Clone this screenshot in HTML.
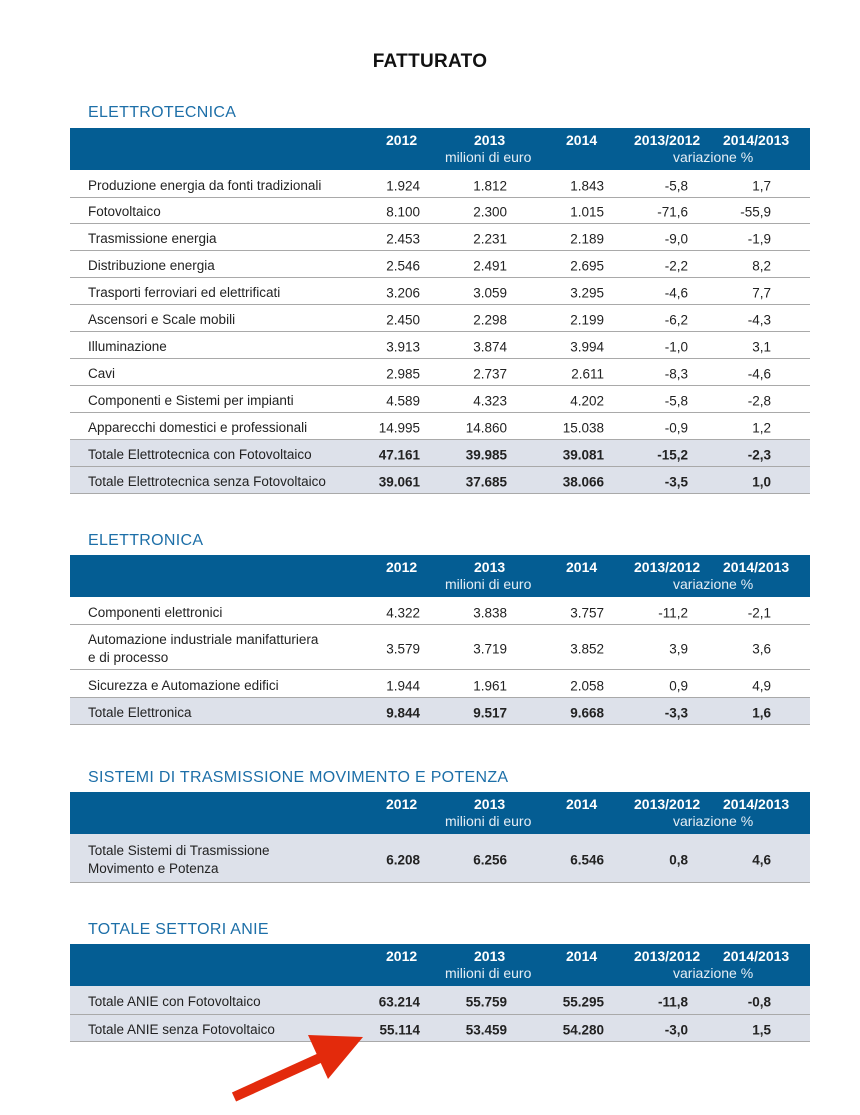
<!DOCTYPE html>
<html><head><meta charset="utf-8"><style>
body{margin:0;width:860px;height:1115px;background:#fff;position:relative;font-family:"Liberation Sans","DejaVu Sans",sans-serif;color:#222;overflow:hidden}
.t{position:absolute;left:0;width:860px;text-align:center;top:51px;font-size:19px;font-weight:bold;color:#111;letter-spacing:0.3px}
.s{position:absolute;left:88px;font-size:16px;color:#1d6fa8;letter-spacing:0.3px}
.h{position:absolute;left:70px;width:740px;height:42px;background:#045d93;color:#fff;font-size:14px}
.h span{position:absolute;top:4px;font-weight:bold}
.h .m{top:21px;color:#e6eef5;font-weight:normal}
.r{position:absolute;left:70px;width:740px;border-bottom:1.5px solid #a9a9a9;font-size:13.5px}
.r.g{background:#dde1ea}
.r.b span{font-weight:bold}
.r span{position:absolute;top:calc(50% + 2px);transform:translateY(-50%)}
.r .l{left:18px;line-height:18px}
.c1,.c2,.c3,.c4,.c5{text-align:right;width:100px}
.c1{left:250px}.c2{left:337px}.c3{left:434px}.c4{left:518px}.c5{left:601px}
.h .x1{left:316px}.h .x2{left:404px}.h .x3{left:496px}.h .x4{left:564px}.h .x5{left:653px}
.h .mm{left:375px}.h .mv{left:603px}
</style></head><body>
<div class="t">FATTURATO</div>

<div class="s" style="top:104px">ELETTROTECNICA</div>
<div class="h" style="top:128px"><span class="x1">2012</span><span class="x2">2013</span><span class="x3">2014</span><span class="x4">2013/2012</span><span class="x5">2014/2013</span><span class="m mm">milioni di euro</span><span class="m mv">variazione %</span></div>
<div class="r" style="top:170px;height:27px"><span class="l">Produzione energia da fonti tradizionali</span><span class="c1">1.924</span><span class="c2">1.812</span><span class="c3">1.843</span><span class="c4">-5,8</span><span class="c5">1,7</span></div>
<div class="r" style="top:197px;height:26px"><span class="l">Fotovoltaico</span><span class="c1">8.100</span><span class="c2">2.300</span><span class="c3">1.015</span><span class="c4">-71,6</span><span class="c5">-55,9</span></div>
<div class="r" style="top:224px;height:26px"><span class="l">Trasmissione energia</span><span class="c1">2.453</span><span class="c2">2.231</span><span class="c3">2.189</span><span class="c4">-9,0</span><span class="c5">-1,9</span></div>
<div class="r" style="top:251px;height:26px"><span class="l">Distribuzione energia</span><span class="c1">2.546</span><span class="c2">2.491</span><span class="c3">2.695</span><span class="c4">-2,2</span><span class="c5">8,2</span></div>
<div class="r" style="top:278px;height:26px"><span class="l">Trasporti ferroviari ed elettrificati</span><span class="c1">3.206</span><span class="c2">3.059</span><span class="c3">3.295</span><span class="c4">-4,6</span><span class="c5">7,7</span></div>
<div class="r" style="top:305px;height:26px"><span class="l">Ascensori e Scale mobili</span><span class="c1">2.450</span><span class="c2">2.298</span><span class="c3">2.199</span><span class="c4">-6,2</span><span class="c5">-4,3</span></div>
<div class="r" style="top:332px;height:26px"><span class="l">Illuminazione</span><span class="c1">3.913</span><span class="c2">3.874</span><span class="c3">3.994</span><span class="c4">-1,0</span><span class="c5">3,1</span></div>
<div class="r" style="top:359px;height:26px"><span class="l">Cavi</span><span class="c1">2.985</span><span class="c2">2.737</span><span class="c3">2.611</span><span class="c4">-8,3</span><span class="c5">-4,6</span></div>
<div class="r" style="top:386px;height:26px"><span class="l">Componenti e Sistemi per impianti</span><span class="c1">4.589</span><span class="c2">4.323</span><span class="c3">4.202</span><span class="c4">-5,8</span><span class="c5">-2,8</span></div>
<div class="r" style="top:413px;height:26px"><span class="l">Apparecchi domestici e professionali</span><span class="c1">14.995</span><span class="c2">14.860</span><span class="c3">15.038</span><span class="c4">-0,9</span><span class="c5">1,2</span></div>
<div class="r g b" style="top:440px;height:26px"><span class="l" style="font-weight:normal">Totale Elettrotecnica con Fotovoltaico</span><span class="c1">47.161</span><span class="c2">39.985</span><span class="c3">39.081</span><span class="c4">-15,2</span><span class="c5">-2,3</span></div>
<div class="r g b" style="top:467px;height:26px"><span class="l" style="font-weight:normal">Totale Elettrotecnica senza Fotovoltaico</span><span class="c1">39.061</span><span class="c2">37.685</span><span class="c3">38.066</span><span class="c4">-3,5</span><span class="c5">1,0</span></div>

<div class="s" style="top:532px">ELETTRONICA</div>
<div class="h" style="top:555px"><span class="x1">2012</span><span class="x2">2013</span><span class="x3">2014</span><span class="x4">2013/2012</span><span class="x5">2014/2013</span><span class="m mm">milioni di euro</span><span class="m mv">variazione %</span></div>
<div class="r" style="top:597px;height:27px"><span class="l">Componenti elettronici</span><span class="c1">4.322</span><span class="c2">3.838</span><span class="c3">3.757</span><span class="c4">-11,2</span><span class="c5">-2,1</span></div>
<div class="r" style="top:625px;height:44px"><span class="l">Automazione industriale manifatturiera<br>e di processo</span><span class="c1">3.579</span><span class="c2">3.719</span><span class="c3">3.852</span><span class="c4">3,9</span><span class="c5">3,6</span></div>
<div class="r" style="top:670px;height:27px"><span class="l">Sicurezza e Automazione edifici</span><span class="c1">1.944</span><span class="c2">1.961</span><span class="c3">2.058</span><span class="c4">0,9</span><span class="c5">4,9</span></div>
<div class="r g b" style="top:698px;height:26px"><span class="l" style="font-weight:normal">Totale Elettronica</span><span class="c1">9.844</span><span class="c2">9.517</span><span class="c3">9.668</span><span class="c4">-3,3</span><span class="c5">1,6</span></div>

<div class="s" style="top:769px">SISTEMI DI TRASMISSIONE MOVIMENTO E POTENZA</div>
<div class="h" style="top:792px"><span class="x1">2012</span><span class="x2">2013</span><span class="x3">2014</span><span class="x4">2013/2012</span><span class="x5">2014/2013</span><span class="m mm">milioni di euro</span><span class="m mv">variazione %</span></div>
<div class="r g b" style="top:834px;height:48px"><span class="l" style="font-weight:normal">Totale Sistemi di Trasmissione<br>Movimento e Potenza</span><span class="c1">6.208</span><span class="c2">6.256</span><span class="c3">6.546</span><span class="c4">0,8</span><span class="c5">4,6</span></div>

<div class="s" style="top:921px">TOTALE SETTORI ANIE</div>
<div class="h" style="top:944px"><span class="x1">2012</span><span class="x2">2013</span><span class="x3">2014</span><span class="x4">2013/2012</span><span class="x5">2014/2013</span><span class="m mm">milioni di euro</span><span class="m mv">variazione %</span></div>
<div class="r g b" style="top:986px;height:28px"><span class="l" style="font-weight:normal">Totale ANIE con Fotovoltaico</span><span class="c1">63.214</span><span class="c2">55.759</span><span class="c3">55.295</span><span class="c4">-11,8</span><span class="c5">-0,8</span></div>
<div class="r g b" style="top:1015px;height:26px"><span class="l" style="font-weight:normal">Totale ANIE senza Fotovoltaico</span><span class="c1">55.114</span><span class="c2">53.459</span><span class="c3">54.280</span><span class="c4">-3,0</span><span class="c5">1,5</span></div>

<svg style="position:absolute;left:0;top:0" width="860" height="1115">
<line x1="234" y1="1097" x2="322" y2="1057" stroke="#e32a0c" stroke-width="10"/>
<polygon points="308,1035 363,1037 328,1079" fill="#e32a0c"/>
</svg>
</body></html>
